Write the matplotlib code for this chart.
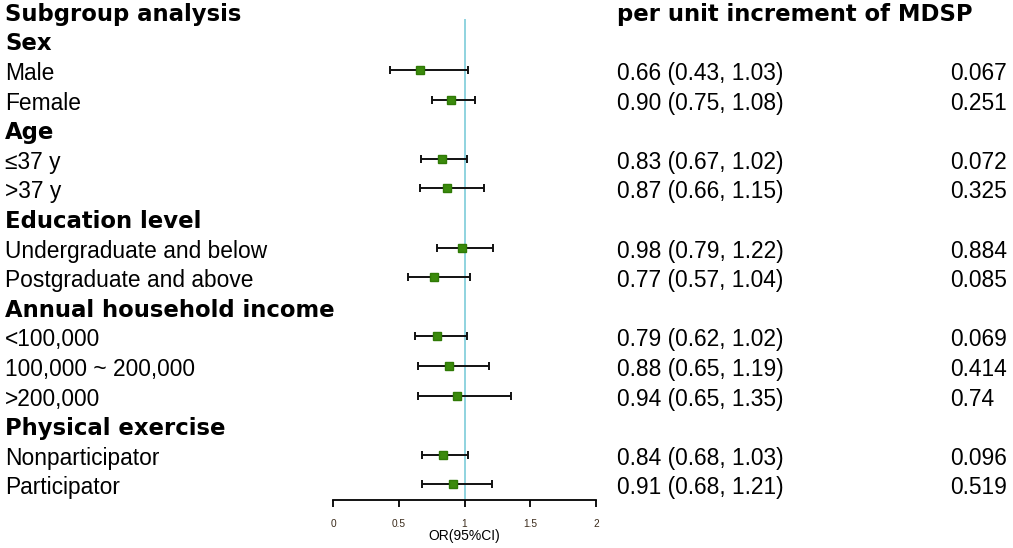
import matplotlib
matplotlib.use('Agg')
import matplotlib.pyplot as plt
from matplotlib.transforms import blended_transform_factory

plt.rcParams['font.family'] = ['Liberation Sans', 'DejaVu Sans']

# rows of the table, top to bottom (None = group header)
labels = ['Sex', 'Male', 'Female',
          'Age', '\u226437 y', '>37 y',
          'Education level', 'Undergraduate and below', 'Postgraduate and above',
          'Annual household income', '<100,000', '100,000 ~ 200,000', '>200,000',
          'Physical exercise', 'Nonparticipator', 'Participator']
is_header = [True, False, False, True, False, False, True, False, False,
             True, False, False, False, True, False, False]
odds = [None, 0.66, 0.90, None, 0.83, 0.87, None, 0.98, 0.77,
        None, 0.79, 0.88, 0.94, None, 0.84, 0.91]
lower = [None, 0.43, 0.75, None, 0.67, 0.66, None, 0.79, 0.57,
         None, 0.62, 0.65, 0.65, None, 0.68, 0.68]
upper = [None, 1.03, 1.08, None, 1.02, 1.15, None, 1.22, 1.04,
         None, 1.02, 1.19, 1.35, None, 1.03, 1.21]
pvals = [None, '0.067', '0.251', None, '0.072', '0.325', None, '0.884', '0.085',
         None, '0.069', '0.414', '0.74', None, '0.096', '0.519']
xticks = [0, 0.5, 1, 1.5, 2]

W, H = 1013, 548
fig = plt.figure(figsize=(W / 100, H / 100), dpi=100)
# forest panel: x 0..2 over px 333..596, axis line at px 500
ax = fig.add_axes([333 / W, (H - 500) / H, 263 / W, 500 / H])
ax.set_xlim(0, 2)
row_h = 29.6
top = 10.8
ax.set_ylim((500 - top) / row_h, -top / row_h)

ax.axvline(1, ymin=0.005, ymax=0.96, color='#8fd3df', lw=1.4, zorder=1)

for i, lab in enumerate(labels):
    y = i + 1
    if odds[i] is not None:
        ax.errorbar(odds[i], y, xerr=[[odds[i] - lower[i]], [upper[i] - odds[i]]],
                    fmt='none', ecolor='#111111', elinewidth=1.4, capsize=3, capthick=1.4, zorder=2)
        ax.plot(odds[i], y, marker='s', ms=5.6, color='#3b8a0c', mec='#2f7a05', zorder=3)

# axis styling
for s in ['top', 'right', 'left']:
    ax.spines[s].set_visible(False)
ax.spines['bottom'].set_linewidth(1.3)
ax.set_yticks([])
ax.set_xticks(xticks)
ax.set_xticklabels([f'{t:g}' for t in xticks], fontsize=7.3, color='#3a2a1a')
ax.tick_params(axis='x', length=5, width=1.3, pad=9)
ax.set_xlabel('OR(95%CI)', fontsize=10, labelpad=0)
ax.patch.set_visible(False)

tr = blended_transform_factory(fig.transFigure, ax.transData)
fs = 16.4
bold = dict(family='DejaVu Sans', fontweight='bold')
base = 10 / row_h  # baseline sits ~10 px below the row centre
ax.text(5 / W, 0 + base, 'Subgroup analysis', transform=tr, fontsize=fs,
        va='baseline', ha='left', **bold)
ax.text(617 / W, 0 + base, 'per unit increment of MDSP', transform=tr, fontsize=fs,
        va='baseline', ha='left', **bold)
for i, lab in enumerate(labels):
    y = i + 1
    if is_header[i]:
        ax.text(5 / W, y + base, lab, transform=tr, fontsize=fs, va='baseline', ha='left', **bold)
    else:
        ax.text(5 / W, y + base, lab, transform=tr, fontsize=fs, va='baseline', ha='left')
    if odds[i] is not None:
        ax.text(617 / W, y + base, f'{odds[i]:.2f} ({lower[i]:.2f}, {upper[i]:.2f})', transform=tr,
                fontsize=fs, va='baseline', ha='left')
        ax.text(950 / W, y + base, pvals[i], transform=tr, fontsize=fs, va='baseline', ha='left')

fig.savefig('out.png', dpi=100)
plt.close(fig)
